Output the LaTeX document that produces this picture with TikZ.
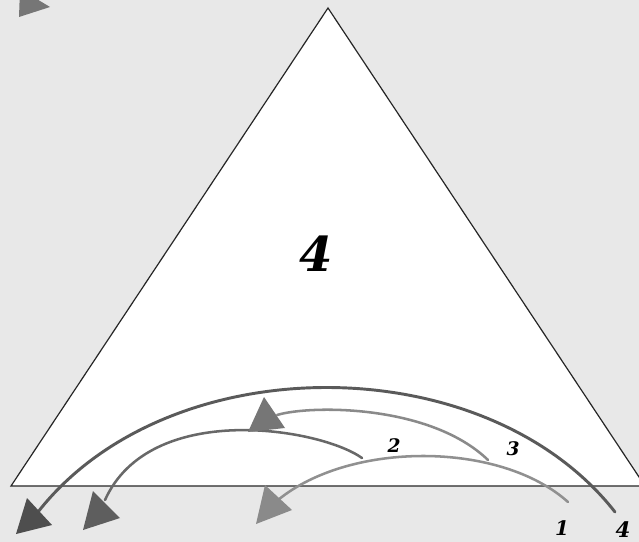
\documentclass[tikz,border=0pt]{standalone}
\usepackage{fontspec}
\newfontfamily\digitfont{DejaVu Serif}
\begin{document}
\begin{tikzpicture}[x=0.75pt,y=-0.75pt,
  lbl/.style={font=\digitfont\bfseries\itshape, inner sep=0pt, text=black},
  arcline/.style={line width=1.9pt, line cap=round}]
\definecolor{bg}{HTML}{E8E8E8}
\definecolor{cfour}{HTML}{5A5A5A}
\definecolor{ctwo}{HTML}{686868}
\definecolor{cone}{HTML}{909090}
\definecolor{cthree}{HTML}{8A8A8A}
\definecolor{hfour}{HTML}{4E4E4E}
\definecolor{htwo}{HTML}{5E5E5E}
\definecolor{hone}{HTML}{8A8A8A}
\definecolor{hthree}{HTML}{767676}
\useasboundingbox (0,0) rectangle (639,542);
\clip (0,0) rectangle (639,542);
\fill[bg] (0,0) rectangle (639,542);
% top-left stray arrowhead
\fill[hthree] (19,17) -- (50,7) -- (20,-11) -- cycle;
% triangle
\coordinate (tl) at (11,486);
\coordinate (tt) at (328,8);
\coordinate (tr) at (645,486);
\filldraw[fill=white, draw=black!85, line width=0.9pt] (tl) -- (tt) -- (tr) -- cycle;
\node[lbl, font=\digitfont\bfseries\itshape\fontsize{36}{36}\selectfont] (big) at (316,254) {4};
% arc 4 (outer)
\coordinate (a4s) at (615,512);
\coordinate (a4e) at (38,512);
\draw[arcline, cfour, line width=2.2pt] (a4s) .. controls (485,346) and (168,346) .. (a4e);
\fill[hfour] (16,534) -- (52,525) -- (27,498) -- cycle;
% arc 1
\coordinate (a1s) at (568,502);
\coordinate (a1e) at (278,500);
\draw[arcline, cone] (a1s) .. controls (500,441) and (350,441) .. (a1e);
\fill[hone] (256,524) -- (292,510) -- (265,485) -- cycle;
% arc 2
\coordinate (a2s) at (362,458);
\coordinate (a2e) at (105,500);
\draw[arcline, ctwo] (a2s) .. controls (320,428) and (150,400) .. (a2e);
\fill[htwo] (83,530) -- (120,518) -- (93,491) -- cycle;
% arc 3
\coordinate (a3s) at (488,460);
\coordinate (a3e) at (277,415);
\draw[arcline, cthree] (a3s) .. controls (430,404) and (310,405) .. (a3e);
\fill[hthree] (264,397) -- (248,432) -- (285,428) -- cycle;
% labels
\node[lbl, font=\digitfont\bfseries\itshape\fontsize{14}{14}\selectfont] (l2) at (394,446) {2};
\node[lbl, font=\digitfont\bfseries\itshape\fontsize{14}{14}\selectfont] (l3) at (513,449) {3};
\node[lbl, font=\digitfont\bfseries\itshape\fontsize{15}{15}\selectfont] (l1) at (562,528) {1};
\node[lbl, font=\digitfont\bfseries\itshape\fontsize{16}{16}\selectfont] (l4) at (623,530) {4};
\end{tikzpicture}
\end{document}
